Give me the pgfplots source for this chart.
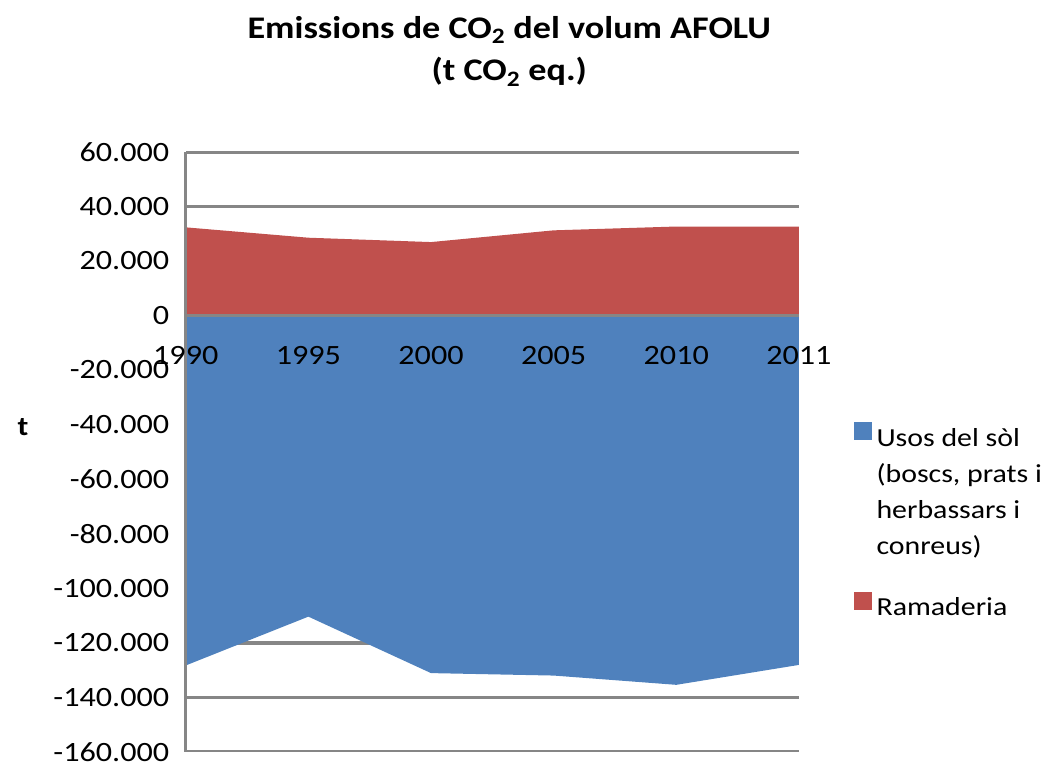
\documentclass[border=0pt]{standalone}
\usepackage{pgfplots}
\pgfplotsset{compat=1.18}
\usepackage{fontspec}
\setmainfont{Carlito}[FakeStretch=1.15]
\definecolor{blueA}{HTML}{4F81BD}
\definecolor{redA}{HTML}{C0504D}
\definecolor{gridg}{HTML}{868686}
\tikzset{mytxt/.style={text height=19pt, text depth=7pt}}
\begin{document}
\begin{tikzpicture}
\node[font=\bfseries\fontsize{31.5}{38}\selectfont] at (510pt,737pt) {Emissions de CO\textsubscript{2} del volum AFOLU};
\node[font=\bfseries\fontsize{31.5}{38}\selectfont] at (510pt,695pt) {(t CO\textsubscript{2} eq.)};
\node[font=\bfseries\fontsize{27}{32}\selectfont] at (23pt,339pt) {t};
\begin{axis}[
  axis on top,
  at={(186pt,14pt)}, anchor=south west,
  scale only axis, width=614pt, height=601pt,
  xmin=0, xmax=5, ymin=-160000, ymax=60000,
  xtick={0,1,2,3,4,5},
  xticklabels={1990,1995,2000,2005,2010,2011},
  ytick={-160000,-140000,-120000,-100000,-80000,-60000,-40000,-20000,0,20000,40000,60000},
  axis x line*=middle, axis y line*=left,
  hide obscured x ticks=false,
  x axis line style={gridg, line width=3.5pt},
  y axis line style={gridg, line width=3.5pt},
  major tick length=0pt,
  scaled y ticks=false,
  tick label style={font=\fontsize{28}{32}\selectfont},
  yticklabel style={xshift=-13pt},
  xticklabel style={yshift=-27pt},
  legend style={at={(1.084,0.553)}, anchor=north west, draw=none, fill=none,
    font=\fontsize{26}{36}\selectfont, row sep=0pt,
    nodes={inner sep=5pt}},
  legend cell align=left,
  /pgf/number format/fixed,
  /pgf/number format/precision=0,
  /pgf/number format/1000 sep={.},
  /pgf/number format/assume math mode=true,
]
\pgfplotsinvokeforeach{-160000,-140000,-120000,-100000,-80000,-60000,-40000,-20000,20000,40000,60000}{
  \draw[gridg, line width=3.5pt] (axis cs:0,#1) -- (axis cs:5,#1);
}
\addplot[fill=blueA, draw=none, legend image code/.code={\fill[blueA] (0pt,0pt) rectangle (18pt,18pt);}]
  coordinates {(0,-128300) (1,-110400) (2,-131100) (3,-132000) (4,-135400) (5,-128100)} \closedcycle;
\addlegendentry[mytxt]{Usos del sòl}
\addlegendimage{empty legend}
\addlegendentry[mytxt]{(boscs, prats i}
\addlegendimage{empty legend}
\addlegendentry[mytxt]{herbassars i}
\addlegendimage{empty legend}
\addlegendentry[mytxt, text depth=33pt]{conreus)}
\addplot[fill=redA, draw=none, legend image code/.code={\fill[redA] (0pt,0pt) rectangle (18pt,18pt);}]
  coordinates {(0,32300) (1,28500) (2,26900) (3,31200) (4,32600) (5,32600)} \closedcycle;
\addlegendentry[mytxt]{Ramaderia}
\end{axis}
\path (0,0) rectangle (1050pt,767pt);
\end{tikzpicture}
\end{document}
